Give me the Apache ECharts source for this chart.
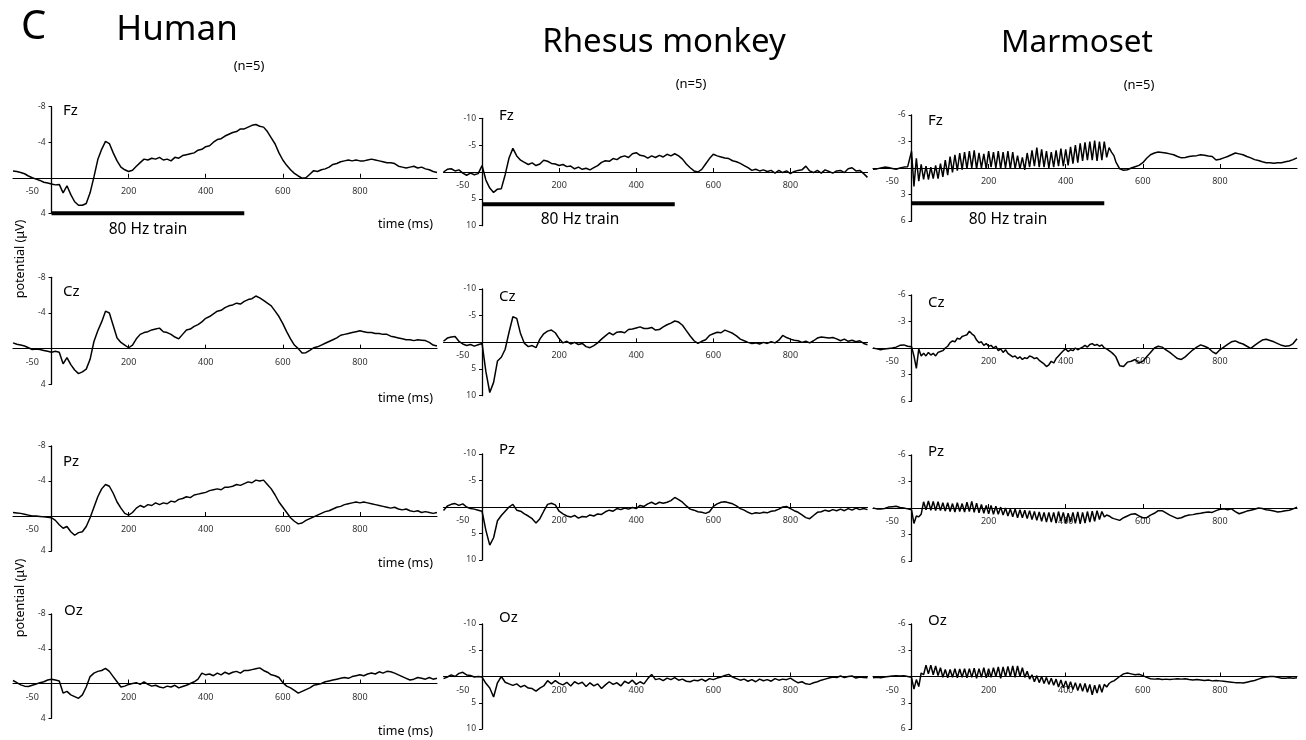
<!DOCTYPE html>
<html><head><meta charset="utf-8">
<script src="https://cdn.jsdelivr.net/npm/echarts@6/dist/echarts.min.js"></script>
<style>html,body{margin:0;padding:0;background:#fff}#c{width:1306px;height:740px}</style>
</head><body><div id="c"></div><script>
// ---------- time grids (ms) ----------
const timesStd = [-100,-90,-80,-70,-60,-50,-40,-30,-20,-10,
0,10,20,30,40,50,60,70,80,90,100,110,120,130,140,150,160,170,180,190,
200,210,220,230,240,250,260,270,280,290,300,310,320,330,340,350,360,370,380,390,
400,410,420,430,440,450,460,470,480,490,500,510,520,530,540,550,560,570,580,590,
600,610,620,630,640,650,660,670,680,690,700,710,720,730,740,750,760,770,780,790,
800,810,820,830,840,850,860,870,880,890,900,910,920,930,940,950,960,970,980,990,1000];
const timesMarm = [-100,-90,-80,-70,-60,-50,-40,-30,-20,-10,
0,6.25,12.5,18.75,25,31.25,37.5,43.75,50,56.25,62.5,68.75,75,81.25,87.5,93.75,
100,106.25,112.5,118.75,125,131.25,137.5,143.75,150,156.25,162.5,168.75,175,181.25,187.5,193.75,
200,206.25,212.5,218.75,225,231.25,237.5,243.75,250,256.25,262.5,268.75,275,281.25,287.5,293.75,
300,306.25,312.5,318.75,325,331.25,337.5,343.75,350,356.25,362.5,368.75,375,381.25,387.5,393.75,
400,406.25,412.5,418.75,425,431.25,437.5,443.75,450,456.25,462.5,468.75,475,481.25,487.5,493.75,
500,506.25,512.5,518.75,525,
530,540,550,560,570,580,590,600,610,620,630,640,650,660,670,680,690,700,710,720,
730,740,750,760,770,780,790,800,810,820,830,840,850,860,870,880,890,900,910,920,
930,940,950,960,970,980,990,1000];

// ---------- tick labels ----------
const xTickValues = [200,400,600,800];
const xLabelValues = [-50,200,400,600,800];
const humanYTicks = [-8,-4,4];
const rhesusYTicks = [-10,-5,5,10];
const marmYTicks = [-6,-3,3,6];
const species = ['Human','Rhesus monkey','Marmoset'];
const electrodes = ['Fz','Cz','Pz','Oz'];
const trainBar = {start:0, end:500, human:4, rhesus:6, marm:4};

// ---------- Human (µV, negative up) ----------
const humanFz = [-0.75,-0.7,-0.6,-0.45,-0.2,0.0,0.15,0.3,0.5,0.6,
0.7,0.8,0.75,1.7,0.9,1.9,2.7,3.1,3.1,2.9,
1.7,-0.1,-2.05,-3.2,-4.1,-3.85,-2.8,-1.9,-1.2,-0.9,
-0.7,-0.85,-1.3,-1.7,-2.1,-2.0,-2.2,-2.1,-2.3,-2.0,
-2.1,-1.9,-2.3,-2.2,-2.5,-2.6,-2.7,-2.8,-3.1,-3.2,
-3.5,-3.6,-4.0,-4.3,-4.4,-4.7,-4.9,-5.1,-5.2,-5.5,
-5.5,-5.7,-5.9,-6.0,-5.8,-5.7,-5.2,-4.5,-3.8,-2.8,
-2.0,-1.4,-0.9,-0.5,-0.2,0.05,0.0,-0.4,-0.8,-0.7,
-0.9,-1.0,-1.2,-1.5,-1.6,-1.8,-1.9,-2.0,-1.9,-2.0,
-1.9,-1.9,-2.0,-2.1,-2.0,-1.9,-1.8,-1.7,-1.7,-1.6,
-1.3,-1.2,-1.1,-1.2,-1.3,-1.1,-1.2,-1.0,-0.9,-0.7,
-0.6];
const humanCz = [-0.65,-0.5,-0.4,-0.3,-0.1,0.1,0.05,0.1,0.2,0.3,
0.4,0.3,0.4,1.7,1.0,1.8,2.4,2.8,2.6,2.3,
1.2,-0.8,-2.0,-3.0,-4.2,-4.0,-2.6,-1.2,-0.7,-0.4,
-0.1,-0.4,-1.1,-1.6,-1.8,-1.9,-2.1,-2.2,-2.3,-1.9,
-1.8,-1.6,-1.3,-1.1,-1.6,-2.1,-2.2,-2.5,-2.7,-3.0,
-3.4,-3.6,-3.9,-4.2,-4.3,-4.6,-4.8,-4.9,-5.1,-5.0,
-5.3,-5.5,-5.6,-5.9,-5.7,-5.4,-5.1,-4.8,-4.2,-3.6,
-2.8,-1.9,-1.1,-0.4,0.0,0.5,0.45,0.2,-0.1,-0.2,
-0.4,-0.6,-0.8,-1.0,-1.2,-1.5,-1.6,-1.7,-1.8,-1.9,
-2.0,-1.9,-1.8,-1.8,-1.7,-1.7,-1.6,-1.6,-1.4,-1.3,
-1.2,-1.1,-1.0,-1.0,-0.9,-1.0,-0.95,-0.9,-0.7,-0.4,
-0.3];
const humanPz = [-0.4,-0.35,-0.3,-0.2,-0.1,0.0,0.0,0.05,0.1,0.15,
0.2,0.5,1.0,1.4,1.2,1.8,2.2,1.9,1.8,1.2,
0.2,-1.0,-2.2,-3.1,-3.6,-3.4,-2.6,-1.6,-0.9,-0.3,
-0.1,-0.4,-0.9,-1.2,-1.0,-1.3,-1.2,-1.5,-1.3,-1.5,
-1.4,-1.7,-1.6,-1.9,-2.0,-2.2,-2.1,-2.4,-2.5,-2.6,
-2.7,-2.9,-3.0,-3.1,-3.0,-3.3,-3.3,-3.4,-3.6,-3.5,
-3.7,-3.9,-3.8,-4.1,-4.0,-4.1,-3.6,-3.1,-2.4,-1.6,
-1.0,-0.4,0.2,0.6,0.9,0.8,0.5,0.3,0.1,-0.1,
-0.3,-0.5,-0.6,-0.8,-1.0,-1.1,-1.3,-1.4,-1.5,-1.6,
-1.5,-1.6,-1.5,-1.4,-1.3,-1.2,-1.1,-1.0,-0.9,-1.0,
-0.8,-0.7,-0.8,-0.6,-0.5,-0.6,-0.4,-0.5,-0.4,-0.3,
-0.4];
const humanOz = [-0.35,-0.1,0.15,0.3,0.35,0.2,0.05,-0.1,-0.2,-0.4,
-0.5,-0.4,-0.3,1.1,0.9,1.3,1.5,1.7,1.3,0.4,
-0.8,-1.2,-1.4,-1.5,-1.75,-1.4,-0.8,-0.2,0.4,0.3,
0.1,0.0,-0.1,0.1,-0.2,0.1,0.3,0.2,0.4,0.5,
0.3,0.4,0.2,0.5,0.35,0.2,0.0,-0.2,-0.5,-1.2,
-1.0,-1.1,-0.9,-1.2,-1.0,-1.3,-1.1,-1.3,-1.4,-1.2,
-1.5,-1.5,-1.6,-1.7,-1.8,-1.5,-1.3,-1.0,-0.9,-0.7,
-0.1,0.3,0.5,0.8,1.1,0.9,0.7,0.5,0.2,0.1,
0.0,-0.2,-0.3,-0.4,-0.5,-0.6,-0.7,-0.6,-0.8,-0.9,
-1.0,-0.9,-1.1,-1.2,-1.1,-1.35,-1.2,-1.4,-1.35,-1.2,
-1.0,-0.8,-0.6,-0.4,-0.5,-0.7,-0.6,-0.5,-0.7,-0.5,
-0.6];

// ---------- Rhesus monkey ----------
const rhesusFz = [0.0,-0.5,-0.6,-0.2,-0.4,0.2,0.6,0.2,0.5,0.3,
-1.2,1.5,3.0,3.8,3.2,3.1,0.5,-2.6,-4.4,-3.0,
-2.2,-1.8,-1.4,-1.7,-1.2,-1.5,-2.2,-2.0,-1.6,-1.5,
-1.2,-1.4,-1.0,-1.1,-0.6,-0.9,-0.5,-0.7,-0.4,-0.8,
-1.2,-1.8,-2.1,-2.0,-2.5,-2.3,-2.8,-3.0,-2.7,-3.4,
-3.6,-3.1,-3.0,-2.6,-3.0,-2.7,-3.1,-2.8,-3.3,-3.0,
-3.4,-3.0,-2.4,-1.5,-0.8,-0.2,0.0,-0.5,-1.5,-2.5,
-3.3,-3.0,-2.8,-2.6,-2.5,-2.1,-1.9,-1.6,-1.2,-0.8,
-0.3,-0.5,-0.2,-0.4,-0.1,-0.3,0.2,-0.3,0.1,-0.2,
0.3,-0.1,-0.3,-0.4,-1.1,-0.2,0.1,-0.3,0.2,-0.4,
-0.1,0.2,-0.2,-0.3,0.1,-0.6,-0.8,-0.2,-0.3,0.3,
1.0];
const rhesusCz = [-0.2,-0.8,-1.0,-1.1,-0.2,0.3,0.6,0.4,0.7,0.45,
0.2,5.5,9.4,7.5,3.5,2.8,1.3,-1.9,-4.8,-4.5,
-1.6,0.2,0.8,0.6,1.0,-0.6,-1.6,-2.1,-2.3,-1.8,
-0.7,0.1,-0.2,0.3,0.0,0.4,0.2,0.8,1.0,0.6,
0.1,-0.6,-1.2,-1.8,-1.4,-1.9,-2.0,-1.8,-2.4,-2.5,
-2.7,-2.9,-2.6,-2.6,-2.8,-2.3,-2.4,-2.9,-3.3,-3.6,
-4.0,-3.8,-3.2,-2.2,-1.2,-0.3,0.2,-0.2,-0.5,-1.3,
-1.6,-1.9,-1.8,-2.3,-2.0,-1.7,-1.2,-0.6,-0.3,0.0,
0.2,0.1,0.3,0.0,0.2,-0.1,0.1,-0.4,-1.3,-0.9,
-0.6,-0.4,-0.3,0.0,-0.2,0.1,-0.3,-0.8,-1.0,-0.9,
-0.8,-0.9,-0.65,-0.3,-0.6,-0.2,-0.4,-0.1,-0.3,0.2,
0.45];
const rhesusPz = [0.65,-0.2,-0.5,-0.65,-0.3,-0.6,0.0,0.3,0.4,0.6,
0.8,4.4,7.2,5.8,2.6,1.6,0.8,0.0,-0.5,0.6,
0.8,1.3,1.7,2.2,3.0,2.2,0.8,-0.5,-0.7,-0.4,
0.8,1.3,1.7,1.9,1.6,2.1,1.8,1.9,1.5,1.7,
1.3,1.4,0.9,0.6,0.8,0.3,0.5,0.2,0.4,0.1,
0.3,-0.3,-0.1,-0.6,-0.9,-0.5,-0.9,-0.7,-0.9,-1.2,
-1.8,-1.4,-0.9,-0.2,0.4,0.6,0.9,1.0,1.2,0.9,
-0.1,-0.6,-0.9,-1.0,-0.8,-0.6,-0.2,0.3,0.6,1.0,
1.3,1.1,1.2,1.0,1.1,0.8,0.7,0.4,0.0,-0.1,
0.3,0.7,1.0,1.5,2.0,2.2,1.6,1.0,0.9,0.6,
0.8,0.5,0.7,0.4,0.7,0.3,0.6,0.2,0.5,0.3,
0.5];
const rhesusOz = [0.4,0.1,-0.3,0.0,-0.6,-0.8,-0.3,-0.2,0.1,0.0,
0.1,1.3,2.2,3.9,1.2,0.0,1.1,1.4,1.7,1.4,
2.0,1.7,2.2,2.3,2.8,2.2,1.8,0.8,1.4,0.8,
1.3,1.6,1.1,1.8,1.0,1.4,1.1,1.9,1.2,1.8,
1.4,2.3,1.6,1.0,1.5,1.2,1.8,0.9,1.3,0.7,
1.5,1.0,1.4,0.4,-0.4,0.6,0.4,0.8,0.3,0.6,
0.2,0.7,0.5,0.9,1.0,0.7,0.8,0.5,0.9,0.4,
0.6,0.3,0.1,-0.2,-0.4,0.1,0.4,0.7,0.5,0.9,
0.6,1.0,0.5,0.8,0.6,0.9,0.4,0.7,0.5,0.6,
0.3,0.8,1.2,1.0,1.4,1.5,1.2,1.0,0.7,0.5,
0.3,0.1,0.2,-0.1,0.2,0.0,-0.1,0.3,0.1,0.2,
0.25];

// ---------- Marmoset (finer sampling during the 80 Hz train) ----------
const marmFz = [0.15,0.1,0.0,-0.1,-0.05,0.05,0.15,0.0,-0.1,-0.15,
-1.9,2.1,-1.1,1.5,-0.4,1.3,-0.2,1.3,-0.1,1.2,
-0.3,1.2,-0.5,1.0,-0.9,0.8,-1.3,0.5,-1.5,0.3,
-1.7,0.2,-1.8,0.1,-1.9,0.0,-2.0,0.1,-1.7,0.0,
-1.6,0.1,-1.9,-0.1,-1.8,0.0,-1.9,0.1,-1.8,0.0,
-1.9,0.1,-1.8,0.1,-1.4,0.1,-1.2,0.2,-1.7,-0.1,
-2.0,-0.2,-2.3,-0.1,-2.1,-0.1,-1.9,0.0,-1.8,-0.1,
-2.0,-0.2,-2.2,-0.2,-2.1,-0.3,-2.4,-0.5,-2.6,-0.6,
-2.8,-0.8,-2.9,-0.9,-3.0,-0.9,-3.1,-0.8,-3.0,-0.9,
-3.0,-1.2,-2.3,-1.8,-1.4,
-0.7,0.1,0.25,0.2,0.0,-0.15,-0.3,-0.6,-1.1,-1.5,
-1.7,-1.8,-1.75,-1.7,-1.6,-1.5,-1.3,-1.15,-1.2,-1.3,
-1.35,-1.4,-1.5,-1.45,-1.35,-1.3,-0.9,-1.0,-1.15,-1.3,
-1.5,-1.7,-1.6,-1.5,-1.3,-1.15,-0.95,-0.85,-0.7,-0.6,
-0.6,-0.55,-0.6,-0.6,-0.7,-0.8,-0.95,-1.15];
const marmCz = [0.0,0.1,0.2,0.1,0.05,0.0,-0.1,-0.3,-0.35,-0.2,
-0.15,0.9,2.3,0.1,0.9,0.6,0.9,0.5,0.8,0.6,
0.9,0.5,0.4,0.3,0.0,-0.2,-0.6,-0.8,-0.7,-1.1,
-1.0,-1.3,-1.4,-1.5,-1.9,-1.6,-1.4,-0.9,-0.6,-0.7,
-0.3,-0.5,-0.2,-0.3,0.0,-0.2,0.3,0.1,0.5,0.2,
0.6,0.8,1.0,0.9,1.2,1.0,1.3,1.1,1.2,0.9,
1.0,1.2,1.1,1.4,1.6,1.8,2.1,1.9,1.5,1.7,
1.2,0.9,0.6,0.3,0.1,0.4,0.2,0.3,0.0,0.2,
0.05,-0.1,-0.3,-0.1,-0.4,-0.5,-0.3,-0.4,-0.2,-0.35,
0.0,0.1,0.3,0.5,0.75,
1.0,2.0,2.1,1.6,1.5,1.3,1.7,1.5,1.0,0.5,
0.0,-0.2,-0.1,0.2,0.5,0.85,1.2,1.3,1.0,0.6,
0.2,-0.1,-0.35,-0.2,0.0,0.4,0.65,0.2,-0.1,-0.4,
-0.7,-0.8,-0.6,-0.45,-0.2,0.05,-0.3,-0.6,-0.9,-1.0,
-0.85,-0.7,-0.5,-0.3,-0.2,-0.25,-0.5,-1.05];
const marmPz = [0.0,0.1,0.1,0.05,-0.1,-0.15,-0.2,-0.05,0.0,0.1,
0.2,1.75,0.9,1.0,0.7,-0.7,0.2,-0.8,0.25,-0.75,
0.3,-0.7,0.3,-0.6,0.35,-0.6,0.4,-0.5,0.45,-0.6,
0.4,-0.5,0.45,-0.65,0.4,-0.75,0.5,-0.55,0.55,-0.4,
0.6,-0.3,0.65,-0.3,0.7,-0.2,0.7,-0.1,0.8,0.0,
0.9,0.1,1.0,0.1,1.1,0.2,1.1,0.25,1.2,0.3,
1.3,0.4,1.4,0.45,1.5,0.5,1.6,0.5,1.6,0.5,
1.7,0.4,1.5,0.5,1.7,0.6,1.6,0.5,1.75,0.45,
1.8,0.5,1.7,0.4,1.6,0.35,1.5,0.3,1.3,0.4,
1.0,0.8,0.9,1.1,1.2,
1.3,1.4,1.1,0.9,0.7,0.65,0.9,1.1,1.1,0.8,
0.6,0.3,0.3,0.55,0.8,1.0,1.2,1.1,0.9,0.8,
0.75,0.65,0.6,0.5,0.45,0.5,0.3,0.15,0.1,0.2,
0.1,0.4,0.65,0.5,0.35,0.25,0.15,0.0,0.05,0.2,
0.25,0.35,0.45,0.4,0.3,0.25,0.1,-0.1];
const marmOz = [0.15,0.1,0.15,0.05,0.0,-0.05,-0.1,-0.05,-0.1,0.0,
0.1,1.45,0.35,1.15,-0.4,-0.2,-1.3,-0.3,-1.3,-0.2,
-1.2,-0.1,-1.0,0.1,-0.8,0.15,-0.8,0.1,-0.9,0.15,
-0.85,0.1,-0.9,0.15,-0.9,0.1,-0.95,0.2,-0.9,0.1,
-1.0,0.15,-0.9,0.1,-1.0,0.0,-1.1,0.2,-1.1,0.05,
-1.15,0.0,-1.2,0.1,-1.2,0.0,-1.0,0.1,-0.6,0.3,
-0.2,0.6,-0.1,0.7,0.0,0.8,0.1,0.9,0.2,1.0,
0.3,1.2,0.4,1.3,0.5,1.4,0.6,1.5,0.7,1.6,
0.8,1.7,0.8,1.8,0.9,2.1,1.0,1.9,0.9,1.8,
0.9,1.2,0.8,0.6,0.5,
0.4,0.0,-0.3,-0.4,-0.3,-0.2,-0.25,-0.1,0.1,0.25,
0.3,0.25,0.35,0.3,0.35,0.3,0.25,0.3,0.25,0.35,
0.4,0.35,0.4,0.45,0.4,0.5,0.45,0.5,0.55,0.6,
0.65,0.7,0.7,0.75,0.65,0.55,0.45,0.3,0.15,0.05,
0.0,0.0,0.1,0.2,0.2,0.15,0.2,0.15];

// ---------- layout (pixels) ----------
const X_MIN = -100, X_MAX = 1000, GRID_W = 424;
const COLS = [
  {left:13, ticks:humanYTicks, min:-8, max:4, times:timesStd, data:[humanFz,humanCz,humanPz,humanOz],
   tops:[106.7,277.3,446,614], heights:[106.6,107,105,104.3], bar:trainBar.human},
  {left:443.5, ticks:rhesusYTicks, min:-10, max:10, times:timesStd, data:[rhesusFz,rhesusCz,rhesusPz,rhesusOz],
   tops:[118.3,289,454,624], heights:[107.4,106.7,106,105], bar:trainBar.rhesus},
  {left:873, ticks:marmYTicks, min:-6, max:6, times:timesMarm, data:[marmFz,marmCz,marmPz,marmOz],
   tops:[115,295,455,624], heights:[106,106,106,105], bar:trainBar.marm}
];
const labelPos = [
  [[63,111],[63,292],[63,462],[64,611]],
  [[499,116],[499,297],[499,450],[499,618]],
  [[928,121],[928,303],[928,452],[928,621]]
];
const FONT = '"Noto Sans", "Open Sans", sans-serif';

const grids = [], xAxes = [], yAxes = [], series = [], graphics = [];
COLS.forEach((col, c) => {
  for (let r = 0; r < 4; r++) {
    const i = grids.length;
    const h = col.heights[r];
    grids.push({left: col.left, top: col.tops[r], width: GRID_W, height: h, containLabel: false});
    // axes drawn through zero: shift the axis inward from the grid edge
    const xOff = -h * (col.max - 0) / (col.max - col.min);
    const yOff = -GRID_W * (0 - X_MIN) / (X_MAX - X_MIN);
    xAxes.push({type:'value', gridIndex:i, min:X_MIN, max:X_MAX, position:'bottom', offset:xOff,
      axisLine:{show:true, onZero:false, lineStyle:{color:'#000', width:1.2}},
      axisTick:{show:true, inside:true, length:4, customValues:xTickValues, lineStyle:{color:'#000', width:1}},
      axisLabel:{show:true, customValues:xLabelValues, fontSize:9, color:'#333', margin:9, fontFamily:FONT},
      splitLine:{show:false}});
    yAxes.push({type:'value', gridIndex:i, inverse:true, min:col.min, max:col.max, position:'left', offset:yOff,
      axisLine:{show:true, onZero:false, lineStyle:{color:'#000', width:1.3}},
      axisTick:{show:true, inside:false, length:3, customValues:col.ticks, lineStyle:{color:'#000', width:1}},
      axisLabel:{show:true, customValues:col.ticks, fontSize:8.5, color:'#333', margin:6, fontFamily:FONT},
      splitLine:{show:false}});
    const vals = col.data[r];
    series.push({type:'line', xAxisIndex:i, yAxisIndex:i, symbol:'none', animation:false,
      data: col.times.map((t, k) => [t, vals[k]]),
      lineStyle:{color:'#000', width:1.5}, silent:true});
    if (r === 0) {
      series.push({type:'line', xAxisIndex:i, yAxisIndex:i, symbol:'none', animation:false, clip:false,
        data:[[trainBar.start, col.bar],[trainBar.end, col.bar]],
        lineStyle:{color:'#000', width:4, cap:'butt'}, silent:true});
    }
    const lp = labelPos[c][r];
    graphics.push({type:'text', x:lp[0], y:lp[1], style:{text:electrodes[r], font:'15px '+FONT, fill:'#000', textAlign:'left', textVerticalAlign:'middle'}});
  }
});

// Titles & annotations
const txt = (s, x, y, size, align, extra) => Object.assign({type:'text', x, y, style:{text:s, font:size+'px '+FONT, fill:'#000', textAlign:align||'center', textVerticalAlign:'middle'}}, extra||{});
graphics.push(txt('C', 21, 28, 40, 'left'));
graphics.push(txt(species[0], 177, 30, 35));
graphics.push(txt(species[1], 664, 43, 33));
graphics.push(txt(species[2], 1077, 43, 31.5));
graphics.push(txt('(n=5)', 249, 66, 13));
graphics.push(txt('(n=5)', 691, 84, 13));
graphics.push(txt('(n=5)', 1139, 85, 13));
graphics.push(txt('80 Hz train', 148, 230, 15.5));
graphics.push(txt('80 Hz train', 580, 220, 15.5));
graphics.push(txt('80 Hz train', 1008, 220, 15.5));
[224, 398, 563, 731].forEach(y => graphics.push(txt('time (ms)', 433, y, 12.5, 'right')));
[259, 598].forEach(y => graphics.push(txt('potential (\u03bcV)', 20, y, 12.5, 'center', {rotation: Math.PI/2})));

const chart = echarts.init(document.getElementById('c'), null, {renderer:'canvas'});
chart.setOption({
  animation:false,
  backgroundColor:'#fff',
  grid:grids, xAxis:xAxes, yAxis:yAxes, series:series,
  graphic:{elements:graphics}
});
</script></body></html>
